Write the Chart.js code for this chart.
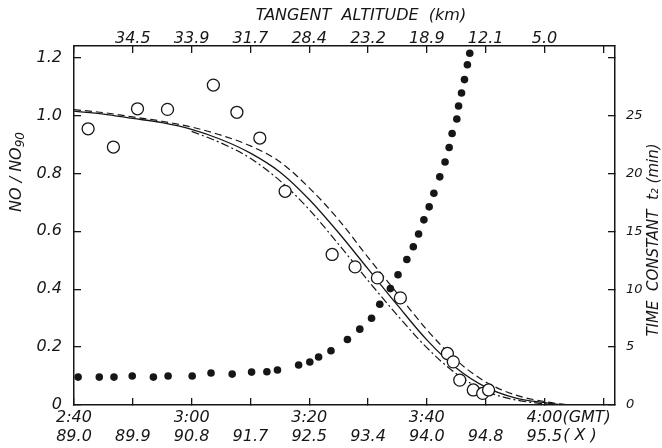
<!DOCTYPE html>
<html>
<head>
<meta charset="utf-8">
<script src="https://cdn.jsdelivr.net/npm/chart.js@4.4.1/dist/chart.umd.min.js"></script>
<style>
  html, body { margin: 0; padding: 0; background: #fff; }
  #wrap { width: 662px; height: 448px; }
</style>
</head>
<body>
<div id="wrap"><canvas id="chart"></canvas></div>
<script>
// x axis is minutes after 2:40 GMT
const tickMinutes = [0, 10, 20, 30, 40, 50, 60, 70, 80, 90];
const timeLabels = ['2:40', '', '3:00', '', '3:20', '', '3:40', '', '4:00', ''];
const chiLabels = ['89.0', '89.9', '90.8', '91.7', '92.5', '93.4', '94.0', '94.8', '95.5', ''];
const altitudeLabels = ['', '34.5', '33.9', '31.7', '28.4', '23.2', '18.9', '12.1', '5.0', ''];

const ratioTicks = [0, 0.2, 0.4, 0.6, 0.8, 1.0, 1.2];
const ratioLabels = ['0', '0.2', '0.4', '0.6', '0.8', '1.0', '1.2'];
const tauTicks = [0, 5, 10, 15, 20, 25, 30];
const tauLabels = ['0', '5', '10', '15', '20', '25', ''];

// measured NO/NO90 (open circles)
const obsMinutes = [2.4, 6.7, 10.8, 15.9, 23.7, 27.7, 31.6, 35.9, 43.9, 47.8, 51.6, 55.5, 63.5, 64.5, 65.6, 67.9, 69.5, 70.5];
const obsRatio = [0.954, 0.891, 1.023, 1.021, 1.105, 1.011, 0.922, 0.738, 0.52, 0.477, 0.439, 0.37, 0.178, 0.149, 0.086, 0.052, 0.04, 0.052];

// time constant t2 in minutes (filled dots, right axis)
const tauMinutes = [0.7, 4.3, 6.8, 9.9, 13.5, 16.0, 20.1, 23.3, 26.9, 30.2, 32.8, 34.6, 38.2, 40.1, 41.6, 43.7,
  46.5, 48.6, 50.6, 52.0, 53.8, 55.1, 56.6, 57.7, 58.6, 59.5, 60.4, 61.2, 62.2, 63.1, 63.8, 64.3, 65.1, 65.4,
  65.9, 66.4, 66.9, 67.3];
const tauValues = [2.41, 2.41, 2.41, 2.5, 2.41, 2.5, 2.5, 2.76, 2.67, 2.84, 2.87, 3.02, 3.45, 3.71, 4.14, 4.69,
  5.66, 6.55, 7.49, 8.7, 10.05, 11.25, 12.56, 13.66, 14.77, 15.99, 17.11, 18.28, 19.7, 20.98, 22.24, 23.45, 24.7, 25.82,
  26.94, 28.1, 29.38, 30.37];

// model curves
const solidMinutes = [0, 5, 10, 15, 20, 25, 30, 35, 40, 45, 50, 55, 60, 65, 70, 75, 80, 83];
const solidRatio = [1.015, 1.005, 0.99, 0.975, 0.952, 0.917, 0.87, 0.805, 0.71, 0.595, 0.47, 0.345, 0.225, 0.128, 0.062, 0.025, 0.008, 0];
const dashedMinutes = [0, 5, 10, 15, 20, 25, 30, 35, 40, 45, 50, 55, 60, 65, 70, 75, 80, 84];
const dashedRatio = [1.02, 1.01, 0.995, 0.98, 0.96, 0.932, 0.895, 0.84, 0.75, 0.64, 0.51, 0.385, 0.26, 0.155, 0.08, 0.035, 0.012, 0];
const dotDashMinutes = [20, 25, 30, 35, 40, 45, 50, 55, 60, 65, 70, 75, 80, 82];
const dotDashRatio = [0.945, 0.905, 0.852, 0.775, 0.675, 0.555, 0.43, 0.31, 0.198, 0.108, 0.048, 0.018, 0.004, 0];

const INK = '#161616';
const FONT = 'DejaVu Sans';
const tickFont = { family: FONT, size: 16, style: 'italic', lineHeight: 1.15 };
const rightTickFont = { family: FONT, size: 13, style: 'italic' };

const pairs = (xs, ys) => xs.map((x, i) => ({ x: x, y: ys[i] }));
const fixTicks = (vals) => (scale) => { scale.ticks = vals.map(v => ({ value: v })); };

// axis titles and the (GMT)/(X) suffixes, placed by hand
const annotations = {
  id: 'annotations',
  afterDraw(chart) {
    const ctx = chart.ctx;
    const xs = chart.scales.x;
    ctx.save();
    ctx.fillStyle = INK;
    ctx.font = 'italic 16px ' + FONT;
    ctx.textBaseline = 'middle';

    // suffixes after the 4:00 and 95.5 labels
    const p80 = xs.getPixelForValue(80);
    ctx.textAlign = 'left';
    ctx.fillText('(GMT)', p80 + ctx.measureText('4:00').width / 2, 418);
    ctx.fillText('( X )', p80 + ctx.measureText('95.5').width / 2 + 1, 436);

    ctx.textAlign = 'center';
    ctx.fillText('TANGENT  ALTITUDE  (km)', 361, 16);

    // left title
    ctx.save();
    ctx.translate(17, 172);
    ctx.rotate(-Math.PI / 2);
    ctx.font = 'italic 16px ' + FONT;
    const main = 'NO / NO';
    const wMain = ctx.measureText(main).width;
    ctx.font = 'italic 12px ' + FONT;
    const wSub = ctx.measureText('90').width;
    const start = -(wMain + wSub) / 2;
    ctx.textAlign = 'left';
    ctx.font = 'italic 16px ' + FONT;
    ctx.fillText(main, start, 0);
    ctx.font = 'italic 12px ' + FONT;
    ctx.fillText('90', start + wMain, 4);
    ctx.restore();

    // right title
    ctx.save();
    ctx.translate(654, 240);
    ctx.rotate(-Math.PI / 2);
    ctx.textAlign = 'center';
    ctx.font = 'italic 15px ' + FONT;
    ctx.fillText('TIME  CONSTANT  t\u2082 (min)', 0, 0);
    ctx.restore();

    ctx.restore();
  }
};

const axisGrid = { drawOnChartArea: false, tickLength: -7, color: INK, lineWidth: 1.3 };
const axisBorder = { color: INK, width: 1.5 };

new Chart(document.getElementById('chart'), {
  type: 'scatter',
  data: {
    datasets: [
      {
        label: 'NO/NO90',
        data: pairs(obsMinutes, obsRatio),
        yAxisID: 'y',
        pointStyle: 'circle',
        pointRadius: 6,
        borderWidth: 1.3,
        borderColor: INK,
        backgroundColor: '#fff',
        showLine: false
      },
      {
        label: 't2',
        data: pairs(tauMinutes, tauValues),
        yAxisID: 'y2',
        pointRadius: 3.8,
        borderWidth: 0,
        backgroundColor: INK,
        showLine: false
      },
      {
        label: 'model',
        data: pairs(solidMinutes, solidRatio),
        yAxisID: 'y',
        showLine: true,
        pointRadius: 0,
        borderColor: INK,
        borderWidth: 1.3,
        cubicInterpolationMode: 'monotone'
      },
      {
        label: 'model dashed',
        data: pairs(dashedMinutes, dashedRatio),
        yAxisID: 'y',
        showLine: true,
        pointRadius: 0,
        borderColor: INK,
        borderWidth: 1.2,
        borderDash: [7, 4],
        cubicInterpolationMode: 'monotone'
      },
      {
        label: 'model dot-dash',
        data: pairs(dotDashMinutes, dotDashRatio),
        yAxisID: 'y',
        showLine: true,
        pointRadius: 0,
        borderColor: INK,
        borderWidth: 1.2,
        borderDash: [8, 3, 2, 3],
        cubicInterpolationMode: 'monotone'
      }
    ]
  },
  options: {
    responsive: true,
    maintainAspectRatio: false,
    animation: false,
    layout: { padding: 0 },
    plugins: { legend: { display: false }, tooltip: { enabled: false } },
    scales: {
      x: {
        type: 'linear', position: 'bottom', min: 0, max: 92,
        afterBuildTicks: fixTicks(tickMinutes),
        afterFit: (s) => { s.height = 43; },
        ticks: {
          autoSkip: false, maxRotation: 0, padding: 11, color: INK, font: tickFont,
          callback: (v, i) => [timeLabels[i], chiLabels[i]]
        },
        grid: axisGrid, border: axisBorder
      },
      x2: {
        type: 'linear', position: 'top', min: 0, max: 92,
        afterBuildTicks: fixTicks(tickMinutes),
        afterFit: (s) => { s.height = 46; },
        ticks: {
          autoSkip: false, maxRotation: 0, padding: 5, color: INK, font: tickFont,
          callback: (v, i) => altitudeLabels[i]
        },
        grid: axisGrid, border: axisBorder
      },
      y: {
        type: 'linear', position: 'left', min: 0, max: 1.24,
        afterBuildTicks: fixTicks(ratioTicks),
        afterFit: (s) => { s.width = 74; },
        ticks: { padding: 19, color: INK, font: tickFont, callback: (v, i) => ratioLabels[i] },
        grid: axisGrid, border: axisBorder
      },
      y2: {
        type: 'linear', position: 'right', min: 0, max: 31,
        afterBuildTicks: fixTicks(tauTicks),
        afterFit: (s) => { s.width = 47; },
        ticks: { padding: 18, color: INK, font: rightTickFont, callback: (v, i) => tauLabels[i] },
        grid: axisGrid, border: axisBorder
      }
    }
  },
  plugins: [annotations]
});
</script>
</body>
</html>
